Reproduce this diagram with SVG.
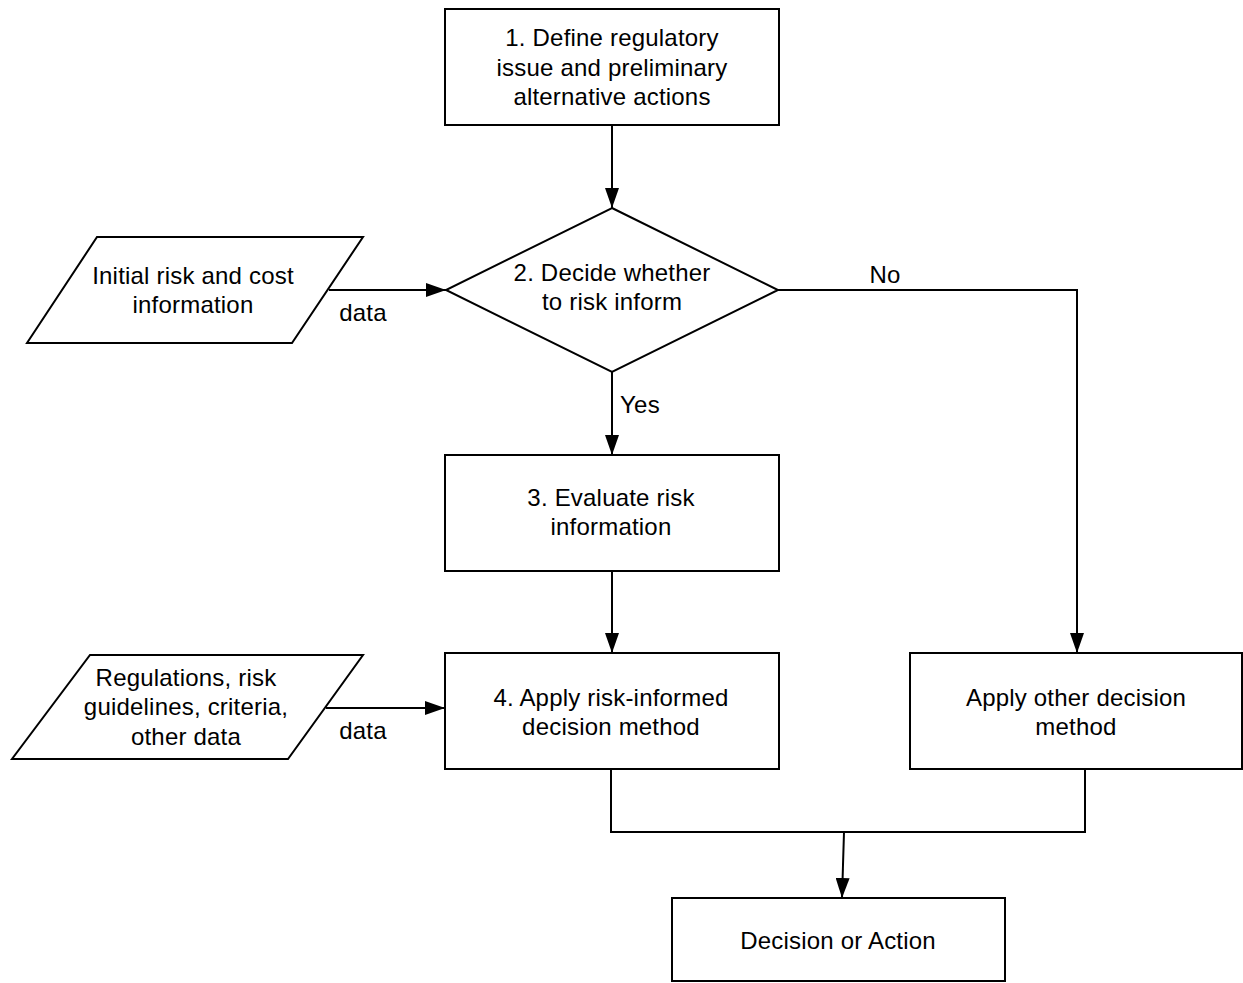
<svg xmlns="http://www.w3.org/2000/svg" width="1243" height="983" viewBox="0 0 1243 983">
<style>
.shape{fill:#fff;stroke:#000;stroke-width:2}
.line{fill:none;stroke:#000;stroke-width:2}
text{font-family:"Liberation Sans",Arial,sans-serif;font-size:24px;letter-spacing:0.2px;fill:#000;text-anchor:middle}
</style>
<defs>
<marker id="arr" markerUnits="userSpaceOnUse" markerWidth="20" markerHeight="14" refX="20" refY="7" orient="auto">
<path d="M0,0 L20,7 L0,14 z" fill="#000"/>
</marker>
</defs>
<rect width="1243" height="983" fill="#fff"/>
<g id="connectors">
<path class="line" d="M612,125 V208" marker-end="url(#arr)"/>
<path class="line" d="M329,290 H446" marker-end="url(#arr)"/>
<path class="line" d="M778,290 H1077 V653" marker-end="url(#arr)"/>
<path class="line" d="M612,372 V455" marker-end="url(#arr)"/>
<path class="line" d="M612,571 V653" marker-end="url(#arr)"/>
<path class="line" d="M326,708 H445" marker-end="url(#arr)"/>
<path class="line" d="M611,769 V832 H1085 V769"/>
<path class="line" d="M844,832 L842,898" marker-end="url(#arr)"/>
<text x="885" y="283">No</text>
<text x="640" y="413">Yes</text>
<text x="363" y="321">data</text>
<text x="363" y="739">data</text>
</g>
<g id="n1">
<rect class="shape" x="445" y="9" width="334" height="116"/>
<text x="612" y="46">1. Define regulatory</text>
<text x="612" y="76">issue and preliminary</text>
<text x="612" y="105">alternative actions</text>
</g>
<g id="n2">
<polygon class="shape" points="612,208 778,290 612,372 446,290"/>
<text x="612" y="281">2. Decide whether</text>
<text x="612" y="310">to risk inform</text>
</g>
<g id="in1">
<polygon class="shape" points="97,237 363,237 292,343 27,343"/>
<text x="193" y="284">Initial risk and cost</text>
<text x="193" y="313">information</text>
</g>
<g id="n3">
<rect class="shape" x="445" y="455" width="334" height="116"/>
<text x="611" y="506">3. Evaluate risk</text>
<text x="611" y="535">information</text>
</g>
<g id="in2">
<polygon class="shape" points="90,655 363,655 288,759 12,759"/>
<text x="186" y="686">Regulations, risk</text>
<text x="186" y="715">guidelines, criteria,</text>
<text x="186" y="745">other data</text>
</g>
<g id="n4">
<rect class="shape" x="445" y="653" width="334" height="116"/>
<text x="611" y="706">4. Apply risk-informed</text>
<text x="611" y="735">decision method</text>
</g>
<g id="n5">
<rect class="shape" x="910" y="653" width="332" height="116"/>
<text x="1076" y="706">Apply other decision</text>
<text x="1076" y="735">method</text>
</g>
<g id="n6">
<rect class="shape" x="672" y="898" width="333" height="83"/>
<text x="838" y="949">Decision or Action</text>
</g>
</svg>
